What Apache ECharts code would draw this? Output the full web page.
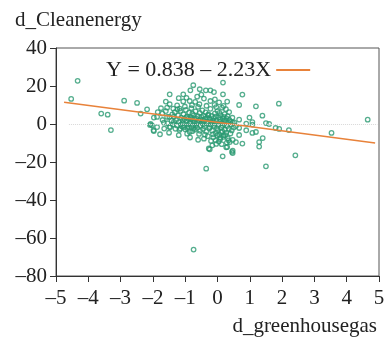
<!DOCTYPE html>
<html><head><meta charset="utf-8">
<script src="https://cdn.jsdelivr.net/npm/echarts@6/dist/echarts.min.js"></script>
<style>html,body{margin:0;padding:0;background:#fff}#c{width:388px;height:340px}</style>
</head><body><div id="c"></div>
<script>
const xTicks = [-5,-4,-3,-2,-1,0,1,2,3,4,5];
const yTicks = [-80,-60,-40,-20,0,20,40];
const legendText = 'Y = 0.838 \u2013 2.23X';
const yTitle = 'd_Cleanenergy';
const xTitle = 'd_greenhousegas';
const regLine = [[-4.75, 11.43], [4.88, -10.04]];
const points = [
[-4.53,13.2],[-4.33,22.7],[-3.6,5.5],[-3.4,4.9],[-3.3,-3.2],[-2.89,12.3],[-2.49,11.1],[-2.38,5.5],[-2.18,7.7],[-2.09,-0.5],[-2.07,0],[-1.97,3.4],[-1.97,-3.7],[-2.03,-0.7],[-1.98,-3.3],[-1.87,3.7],[-1.87,-1.6],[-1.71,5.5],[-1.66,0.7],[-1.56,8.6],[-1.56,3.7],[-1.48,15.6],[-1.48,10.4],[-1.46,-1.6],[-1.37,8.1],[-1.35,1.1],[-1.25,9.8],[-1.17,8.1],[-1.15,-2.4],[-1.06,15.6],[-1.06,11.9],[-0.94,-2.1],[-0.94,-5.1],[-0.86,12.1],[-0.84,17.7],[-0.78,-3.8],[-0.75,20.4],[-0.69,11.6],[-0.55,18.3],[-0.42,13.4],[-0.36,17.7],[-0.22,17.7],[-0.22,12.1],[-0.11,16.8],[0.17,21.8],[0.17,15.6],[0.19,9.5],[-0.04,8.9],[-1.49,3.7],[-1.49,-1.6],
[0.77,15.5],[0.67,10],[1.19,9.3],[1.9,10.7],[1.39,4.4],[1.5,0.5],[1.6,0],[1.8,-2.1],[1.91,-2.6],[2.21,-3.2],[3.53,-4.7],[4.65,2.3],[0.99,3.4],[1.08,1.0],[1.08,-0.3],[0.89,0.2],[0.89,-3.3],[1.08,-4.7],[1.19,-4.2],[1.4,-7.4],[1.29,-9.5],[1.29,-11.9],[0.67,-5.8],[0.77,-10.3],[0.57,-9.5],[0.47,-8.4],[0.47,-14],[0.47,-15.3],[2.41,-16.5],[1.5,-22.3],[0.67,2.3],[0.67,-2.1],[0.57,-1.1],[0.47,0.7],
[-0.35,-23.5],[0.16,-17],[0.27,-12.3],[-0.24,-13.3],[-0.74,-66.1],[-0.27,-12.9],[0.3,-12.1],[0.45,-14.7],[-0.42,-7.7],[-0.06,-8.6],[0.19,-5.9],[0.38,-9.5],
[-1.32,6.2],[-1.28,2.1],[-1.25,-0.8],[-1.22,4.5],[-1.2,1.0],[-1.18,-3.1],[-1.15,6.9],[-1.12,3.3],[-1.1,-1.2],[-1.08,0.4],[-1.05,5.1],[-1.02,2.6],[-1.0,-2.8],[-0.98,7.4],[-0.96,1.7],[-0.94,4.0],[-0.92,-0.3],[-0.9,2.9],[-0.88,6.0],[-0.86,-4.2],[-0.85,0.9],[-0.83,3.6],[-0.81,8.3],[-0.8,-1.5],[-0.78,5.4],[-0.76,2.2],[-0.75,-0.6],[-0.73,4.7],[-0.71,1.3],[-0.7,-3.0],[-0.68,6.6],[-0.66,3.0],[-0.65,0.1],[-0.63,-2.0],[-0.61,4.1],[-0.6,9.0],[-0.58,1.9],[-0.57,-5.2],[-0.55,5.8],[-0.53,2.5],[-0.52,-0.9],[-0.5,3.8],[-0.48,0.6],[-0.47,7.2],[-0.45,-2.6],[-0.43,4.4],[-0.42,1.5],[-0.4,-1.3],[-0.38,2.8],[-0.37,6.1],[-0.35,-4.0],[-0.33,0.3],[-0.32,3.4],[-0.3,-6.4],[-0.28,5.0],[-0.27,1.1],[-0.25,-2.3],[-0.23,2.4],[-0.22,8.0],[-0.2,-0.4],[-0.18,4.2],[-0.17,-3.5],[-0.15,1.8],[-0.13,-7.0],[-0.12,3.1],[-0.1,-1.0],[-0.08,5.6],[-0.07,0.2],[-0.05,-4.8],[-0.03,2.0],[-0.02,-2.2],[0.0,6.8],[0.02,-0.5],[0.03,3.5],[0.05,-5.6],[0.07,1.2],[0.08,-8.0],[0.1,4.6],[0.12,-1.8],[0.13,0.5],[0.15,-3.9],[0.17,2.7],[0.18,-6.8],[0.2,0.0],[0.22,5.2],[0.23,-2.9],[0.25,1.6],[0.27,-4.5],[0.28,3.0],[0.3,-1.1],[0.32,-7.5],[0.33,0.8],[0.35,-2.5],[0.37,2.2],[0.4,-5.0],[0.42,-0.2],[0.44,-3.4],[0.36,6.3],[0.26,7.8],[0.14,8.6],[-0.09,10.1],[-0.34,9.6],[-0.56,10.4],[-0.79,9.9],[-1.01,9.2],[-1.24,7.7],[-1.4,5.0],[-1.42,1.8],[-1.38,-0.2],[-1.3,-2.5],[-1.35,3.9],
[-0.01,-6.0],[0.04,-9.2],[-0.04,-10.5],[0.09,-7.2],[0.01,-3.3],[-0.06,3.9],[0.06,5.9],[-0.14,-5.4],[0.11,-4.4],[-0.19,0.9],[0.16,-0.9],[-0.24,-1.6],[0.21,1.9],[-0.29,4.6],[0.24,-5.9],[-0.44,-0.1],[-0.62,0.8],[-0.67,-1.0],[-0.82,2.6],[-0.87,0.2],[-0.97,3.5],[-1.07,1.9],[-1.13,-0.2],[-0.72,2.8],[-0.46,2.1],[-0.26,2.9],[-0.11,1.4],[0.08,2.6],[0.19,3.7],[0.31,4.1],[0.41,1.3],[0.46,3.3],[0.5,-1.9],[0.52,0.9],[-0.54,-3.6],[-0.74,-2.2],[-0.91,-1.4],[-1.04,-1.6],[-0.39,-5.6],[-0.2,-8.9],[0.29,-9.8],[0.34,-8.6],[-0.16,-11.2],[0.13,-10.6],
[-1.2,13.6],[-0.96,13.8],[-0.63,14.4],[-0.5,15.5],[-0.08,13.0],[0.05,11.4],[0.3,11.8],[-1.6,11.8],[-1.75,8.3],[-1.85,6.2],[-1.6,6.8],[-1.7,2.1],[-1.55,0.4],[-1.65,-2.4],[-1.5,-4.6],[-1.2,-5.9],[-0.85,-7.1],[-0.6,-8.3],[-1.78,-5.4]
];
const FONT = '"Liberation Serif","DejaVu Serif",serif';
const fmt = v => String(v).replace('-', '\u2013');
const chart = echarts.init(document.getElementById('c'), null, {renderer:'canvas'});
chart.setOption({
  animation:false,
  backgroundColor:'#fff',
  textStyle:{fontFamily:FONT},
  title:[
    {text:yTitle, left:10, top:5, textStyle:{fontFamily:FONT, fontSize:21, fontWeight:'normal', color:'#222'}},
    {text:xTitle, right:6, top:311, textStyle:{fontFamily:FONT, fontSize:21, fontWeight:'normal', color:'#222'}}
  ],
  legend:{
    show:true, left:101, top:54, align:'right', itemWidth:34, itemHeight:2, itemGap:7,
    data:[{name:legendText, icon:'rect'}],
    textStyle:{fontFamily:FONT, fontSize:22, color:'#222'}
  },
  grid:{left:56, right:9, top:48, bottom:64, show:true, borderColor:'#555', borderWidth:1, backgroundColor:'transparent'},
  xAxis:{
    type:'value', min:xTicks[0], max:xTicks[xTicks.length-1], interval:1,
    axisLine:{onZero:false, lineStyle:{color:'#333', width:1}},
    axisTick:{show:true, length:6, lineStyle:{color:'#333'}},
    splitLine:{show:false},
    axisLabel:{margin:12, fontFamily:FONT, fontSize:21, color:'#222', formatter:fmt}
  },
  yAxis:{
    type:'value', min:yTicks[0], max:yTicks[yTicks.length-1], interval:20,
    axisLine:{show:true, onZero:false, lineStyle:{color:'#333', width:1}},
    axisTick:{show:true, length:6, lineStyle:{color:'#333'}},
    splitLine:{show:false},
    axisLabel:{margin:9, fontFamily:FONT, fontSize:21, color:'#222', formatter:fmt}
  },
  series:[
    {
      type:'scatter', name:'pts', data:points, symbol:'circle', symbolSize:4.5,
      itemStyle:{color:'rgba(0,0,0,0)', borderColor:'#2a9a72', borderWidth:1.3},
      markLine:{silent:true, symbol:'none', label:{show:false},
        lineStyle:{type:'dotted', color:'#d8d8d8', width:1},
        data:[[{coord:[-4.6,0]},{coord:[4.95,0]}]]},
      z:2
    },
    {
      type:'line', name:legendText, data:regLine, showSymbol:false, symbol:'none',
      lineStyle:{color:'#e8823a', width:1.5}, itemStyle:{color:'#e8823a'}, z:3
    }
  ]
});
</script></body></html>
